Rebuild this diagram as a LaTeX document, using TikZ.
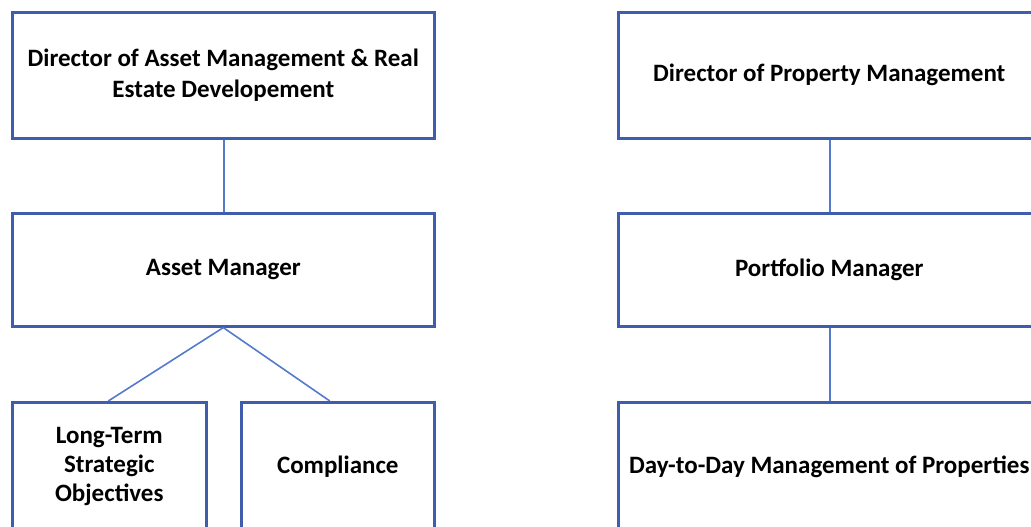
\documentclass[tikz,border=0pt]{standalone}
\usepackage{fontspec}
\setmainfont{Carlito}
\definecolor{boxblue}{RGB}{64,92,172}
\definecolor{lineblue}{RGB}{84,122,204}
\begin{document}
\begin{tikzpicture}[x=1pt,y=-1pt,
  box/.style={draw=boxblue, line width=2.6pt, fill=white, align=center, inner sep=0pt,
     font=\fontsize{25}{31}\selectfont\bfseries, anchor=north west},
  conn/.style={draw=lineblue, line width=1.6pt}]
\useasboundingbox (0,0) rectangle (1031,527);
\clip (0,0) rectangle (1031,527);
\node[box, minimum width=422pt, minimum height=126pt] (dam) at (11,11) {Director of Asset Management \& Real\\Estate Developement};
\node[box, minimum width=422pt, minimum height=113pt] (am) at (11,212) {Asset Manager};
\node[box, minimum width=194pt, minimum height=129pt, text width=190pt, font=\fontsize{25}{29}\selectfont\bfseries] (lt) at (11,401) {Long-Term\\Strategic\\Objectives};
\node[box, minimum width=193pt, minimum height=129pt] (co) at (240,401) {Compliance};
\node[box, minimum width=422pt, minimum height=126pt] (dpm) at (617,11) {Director of Property Management};
\node[box, minimum width=422pt, minimum height=113pt] (pm) at (617,212) {Portfolio Manager};
\node[box, minimum width=422pt, minimum height=129pt] (dd) at (617,401) {Day-to-Day Management of Properties};
\draw[conn] ([xshift=0.5pt]dam.south) -- ([xshift=0.5pt]am.north);
\draw[conn] (am.south) -- ([xshift=-1pt]lt.north);
\draw[conn] (am.south) -- ([xshift=-8pt]co.north);
\draw[conn] ([xshift=0.5pt]dpm.south) -- ([xshift=0.5pt]pm.north);
\draw[conn] ([xshift=0.5pt]pm.south) -- ([xshift=0.5pt]dd.north);
\end{tikzpicture}
\end{document}
